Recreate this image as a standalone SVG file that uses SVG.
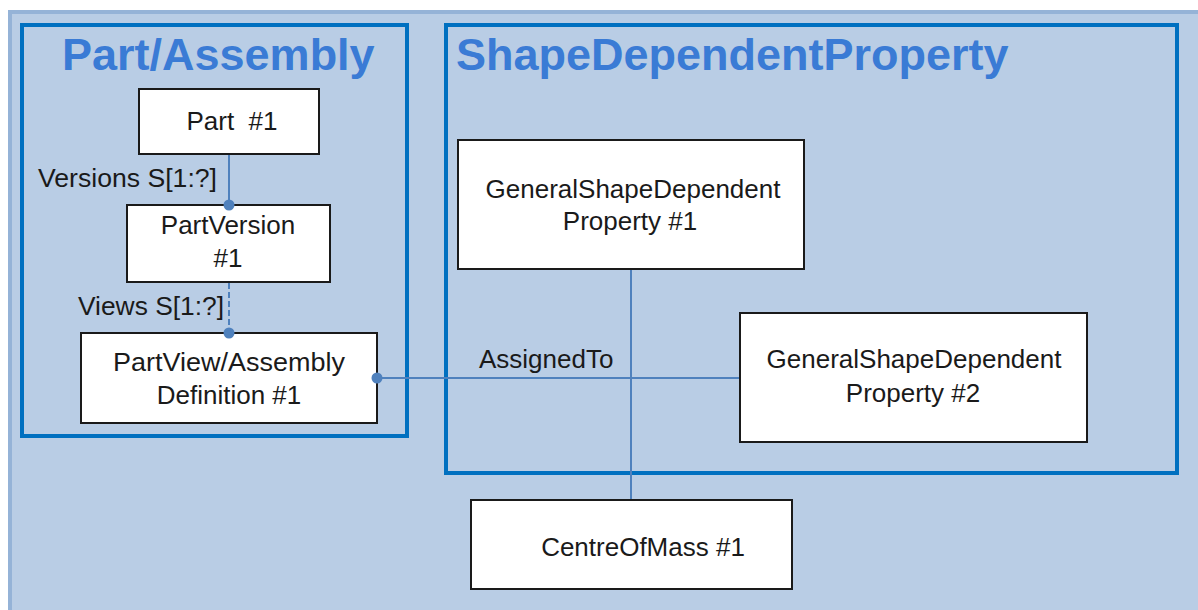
<svg xmlns="http://www.w3.org/2000/svg" width="1198" height="610" viewBox="0 0 1198 610">
<style>
.bg{fill:#B9CDE5;stroke:#95B3D7;stroke-width:4}
.frame{fill:none;stroke:#0070C0;stroke-width:4}
.title{font-family:"Liberation Sans",Arial,sans-serif;font-weight:bold;font-size:45px;fill:#3A7BD5}
.box{fill:#FFFFFF;stroke:#1A1A1A;stroke-width:2}
.t{font-family:"Liberation Sans",Arial,sans-serif;font-size:26px;fill:#1A1A1A}
.c{text-anchor:middle}
.conn{fill:none;stroke:#4F81BD;stroke-width:2}
.dot{fill:#4F81BD}
</style>
<rect x="0" y="0" width="1198" height="610" fill="#FFFFFF"/>
<rect class="bg" x="10" y="12" width="1192" height="602"/>
<g id="frame-part-assembly">
<rect class="frame" x="22" y="25" width="385" height="411"/>
<text class="title" x="62" y="70">Part/Assembly</text>
</g>
<g id="frame-shape-dependent-property">
<rect class="frame" x="446" y="25" width="731" height="448"/>
<text class="title" x="456" y="70">ShapeDependentProperty</text>
</g>
<g id="node-part">
<rect class="box" x="139" y="89" width="180" height="65"/>
<text class="t c" x="232" y="130" xml:space="preserve">Part  #1</text>
</g>
<g id="node-partversion">
<rect class="box" x="127" y="205" width="203" height="77"/>
<text class="t c" x="228" y="234">PartVersion</text>
<text class="t c" x="228" y="267">#1</text>
</g>
<g id="node-partview">
<rect class="box" x="81" y="333" width="296" height="90"/>
<text class="t c" x="229" y="371" textLength="232" lengthAdjust="spacingAndGlyphs">PartView/Assembly</text>
<text class="t c" x="229" y="404">Definition #1</text>
</g>
<g id="node-gsdp1">
<rect class="box" x="458" y="140" width="346" height="129"/>
<text class="t c" x="633" y="198">GeneralShapeDependent</text>
<text class="t c" x="630" y="230">Property #1</text>
</g>
<g id="node-gsdp2">
<rect class="box" x="740" y="313" width="347" height="129"/>
<text class="t c" x="914" y="368">GeneralShapeDependent</text>
<text class="t c" x="913" y="402">Property #2</text>
</g>
<g id="node-centreofmass">
<rect class="box" x="471" y="500" width="321" height="89"/>
<text class="t c" x="643" y="556">CentreOfMass #1</text>
</g>
<g id="connectors">
<line class="conn" x1="229" y1="155" x2="229" y2="205"/>
<circle class="dot" cx="229" cy="205" r="5.5"/>
<line class="conn" x1="229" y1="283" x2="229" y2="333" stroke-dasharray="6 3"/>
<circle class="dot" cx="229" cy="333" r="5.5"/>
<line class="conn" x1="377" y1="378" x2="739" y2="378"/>
<circle class="dot" cx="377" cy="378" r="5.5"/>
<line class="conn" x1="631" y1="270" x2="631" y2="499"/>
<text class="t" x="38" y="187" textLength="179" lengthAdjust="spacingAndGlyphs">Versions S[1:?]</text>
<text class="t" x="78" y="315" textLength="146" lengthAdjust="spacingAndGlyphs">Views S[1:?]</text>
<text class="t" x="479" y="368">AssignedTo</text>
</g>
</svg>
